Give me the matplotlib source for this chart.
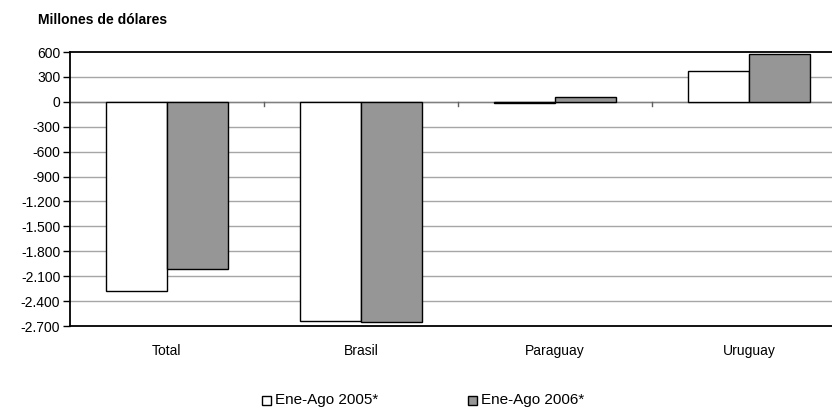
import matplotlib
matplotlib.use("Agg")
import matplotlib.pyplot as plt
import matplotlib.transforms as mtransforms
from matplotlib.ticker import FuncFormatter
from matplotlib.patches import Rectangle
import numpy as np

plt.rcParams['font.family'] = ['Liberation Sans', 'DejaVu Sans']

categories = ["Total", "Brasil", "Paraguay", "Uruguay"]
series_names = ["Ene-Ago 2005*", "Ene-Ago 2006*"]
values_2005 = [-2280, -2640, -15, 370]
values_2006 = [-2010, -2655, 60, 580]
y_ticks = list(range(-2700, 601, 300))
series_colors = ["white", "#969696"]

fig = plt.figure(figsize=(8.32, 4.09), dpi=100)
W, H = 832, 409
left_px, right_px, top_px, bottom_px = 70, 846, 52, 326
ax = fig.add_axes([left_px / W, 1 - bottom_px / H, (right_px - left_px) / W, (bottom_px - top_px) / H])

x = np.arange(len(categories))
w = 0.315
ax.bar(x - w / 2, values_2005, width=w, color=series_colors[0], edgecolor="black", linewidth=1.0, zorder=3)
ax.bar(x + w / 2, values_2006, width=w, color=series_colors[1], edgecolor="black", linewidth=1.0, zorder=3)

ax.set_xlim(-0.5, len(categories) - 0.5)
ax.set_ylim(-2700, 600)
ax.set_yticks(y_ticks)
ax.yaxis.set_major_formatter(FuncFormatter(lambda v, p: f"{int(v):,}".replace(",", ".")))
ax.tick_params(axis="y", direction="out", length=5, width=1, labelsize=10, pad=2)
for yt in y_ticks:
    if -2700 < yt < 600:
        ax.axhline(yt, color="#a6a6a6", linewidth=1.0, zorder=1)
ax.axhline(0, color="#808080", linewidth=1.0, zorder=2)

# category axis crossing at zero
ax.set_xticks([])
for b in np.arange(0.5, len(categories) - 0.5, 1.0):
    ax.plot([b, b], [0, -50], color="#606060", linewidth=1.0, zorder=2, clip_on=False)
label_tr = mtransforms.blended_transform_factory(ax.transData, fig.transFigure)
for xi, c in zip(x, categories):
    ax.text(xi, 1 - 351 / H, c, ha="center", va="center", fontsize=10,
            transform=label_tr, color="black")

for s in ["left", "top", "bottom"]:
    ax.spines[s].set_linewidth(1.3)
    ax.spines[s].set_color("black")
ax.spines["right"].set_visible(False)

fig.text(38 / W, 1 - 20 / H, "Millones de dólares", fontsize=10, fontweight="bold", va="center", ha="left")

# legend (manual placement)
leg_y = 400
sq = 9
for sx, name, col in zip([262, 468], series_names, series_colors):
    fig.patches.append(Rectangle((sx / W, 1 - (leg_y + sq / 2) / H), sq / W, sq / H,
                                 facecolor=col, edgecolor="black", linewidth=1.0,
                                 transform=fig.transFigure, figure=fig))
    fig.text((sx + sq + 4) / W, 1 - leg_y / H, name, fontsize=11, va="center", ha="left")

fig.savefig("out.png", dpi=100)
